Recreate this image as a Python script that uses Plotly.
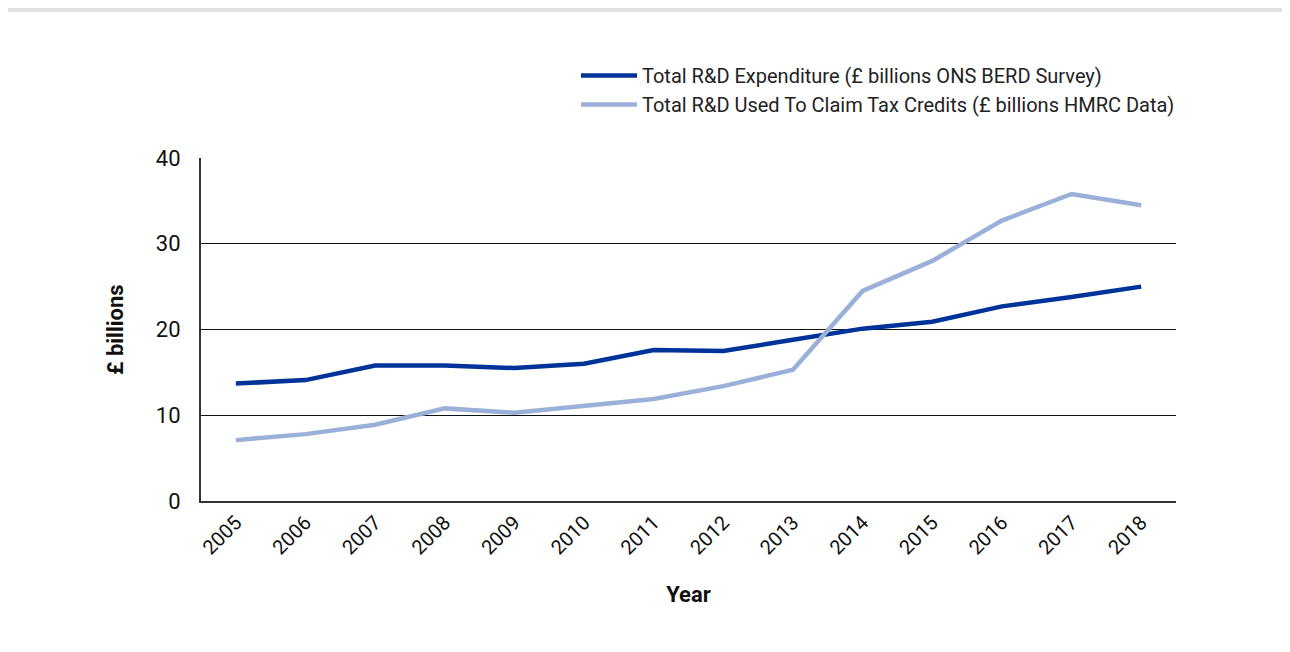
import plotly.graph_objects as go

years = ["2005", "2006", "2007", "2008", "2009", "2010", "2011", "2012", "2013", "2014", "2015", "2016", "2017", "2018"]
berd = [13.7, 14.1, 15.8, 15.8, 15.5, 16.0, 17.6, 17.5, 18.8, 20.1, 20.9, 22.7, 23.8, 25.0]
hmrc = [7.1, 7.8, 8.9, 10.8, 10.3, 11.1, 11.9, 13.4, 15.3, 24.5, 28.0, 32.7, 35.8, 34.5]
series_names = ["Total R&D Expenditure (£ billions ONS BERD Survey)",
                "Total R&D Used To Claim Tax Credits (£ billions HMRC Data)"]
y_ticks = [0, 10, 20, 30, 40]

FONT = "Roboto"
fig = go.Figure()
fig.add_trace(go.Scatter(x=years, y=berd, mode="lines", name=series_names[0],
                         line=dict(color="#003399", width=4.5)))
fig.add_trace(go.Scatter(x=years, y=hmrc, mode="lines", name=series_names[1],
                         line=dict(color="#9bb0d9", width=4.5)))

W, H = 1282, 644
L, T = 193, 150
R, B = W - 1168, H - 493
pw, ph = W - L - R, H - T - B
fig.add_shape(type="rect", xref="paper", yref="paper",
              x0=-0.5, x1=1.5,
              y0=-(B + 20) / ph, y1=1 + (T - 4) / ph,
              fillcolor="white", line_width=0, layer="below")

fig.update_layout(
    width=W, height=H,
    margin=dict(l=L, r=R, t=T, b=B),
    paper_bgcolor="#e1e1e1", plot_bgcolor="white",
    font=dict(family=FONT, color="#111111", size=22),
    showlegend=True,
    legend=dict(x=(568 - L) / pw, y=1 + (T - 48) / ph, xanchor="left", yanchor="top",
                bgcolor="rgba(0,0,0,0)", font=dict(size=20, family=FONT, color="#222222"),
                itemwidth=56, tracegroupgap=0),
    xaxis=dict(type="category", range=[-0.5, 13.5], showgrid=False,
               showline=True, linecolor="#333333", linewidth=2,
               ticks="", tickangle=-45, tickfont=dict(size=20),
               title=dict(text="<b>Year</b>", font=dict(size=22), standoff=28)),
    yaxis=dict(range=[0, 40], tickvals=y_ticks, showgrid=True, gridcolor="#111111", gridwidth=1.3,
               showline=True, linecolor="#333333", linewidth=2, zeroline=False,
               ticks="", tickfont=dict(size=22), ticklabelstandoff=14,
               title=dict(text="<b>£ billions</b>", font=dict(size=22), standoff=26)),
)
fig.write_html("out.html")
